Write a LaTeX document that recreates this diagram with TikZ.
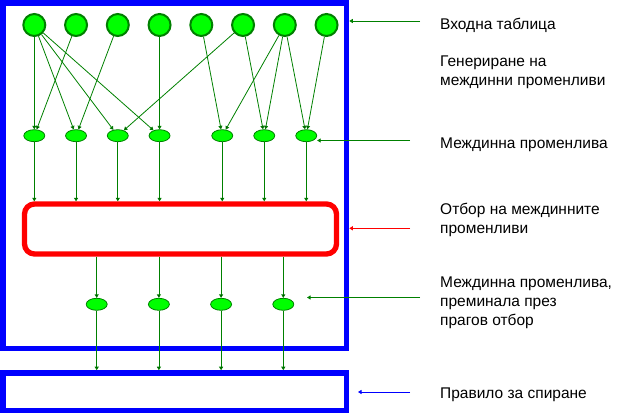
\documentclass[tikz,border=0pt]{standalone}
\usepackage{fontspec}
\setmainfont{Liberation Sans}
\usepackage{xcolor}
\usetikzlibrary{positioning, shapes.geometric, arrows.meta}
\definecolor{darkgreen}{RGB}{0,128,0}
\definecolor{litegreen}{RGB}{0,255,0}

\begin{document}
\begin{tikzpicture}[x=1pt, y=-1pt,
    font=\fontsize{15.5}{19}\selectfont,
    >={Triangle[width=4pt,length=3.5pt]},
    inp/.style={circle, draw=darkgreen, fill=litegreen, line width=2pt,
                minimum size=22pt, inner sep=0pt},
    var/.style={ellipse, draw=darkgreen, fill=litegreen, line width=0.8pt,
                minimum width=21pt, minimum height=12pt, inner sep=0pt},
    bluebox/.style={draw=blue, line width=5.5pt, minimum width=343.5pt, inner sep=0pt},
    note/.style={anchor=west, align=left, inner sep=0pt}]
    \useasboundingbox (0,0) rectangle (630,414);
    % Boxes
    \node[bluebox, minimum height=345.5pt] (tabl) at (174.75,175.75) {};
    \node[bluebox, minimum height=37.5pt] (stop) at (174.75,391.75) {};
    \node[draw=red, line width=5.3pt, rounded corners=10pt,
          minimum width=312pt, minimum height=50pt] (sel) at (180.5,229) {};
    % Input table
    \node[inp] (c1) at (34.3,25) {};
    \node[inp, right=17.75pt of c1] (c2) {};
    \node[inp, right=17.75pt of c2] (c3) {};
    \node[inp, right=17.75pt of c3] (c4) {};
    \node[inp, right=17.75pt of c4] (c5) {};
    \node[inp, right=17.75pt of c5] (c6) {};
    \node[inp, right=17.75pt of c6] (c7) {};
    \node[inp, right=17.75pt of c7] (c8) {};
    % Intermediate variables
    \node[var, below=92.3pt of c1] (m1) {};
    \node[var, below=92.3pt of c2] (m2) {};
    \node[var, below=92.3pt of c3] (m3) {};
    \node[var, below=92.3pt of c4] (m4) {};
    \node[var, right=40.9pt of m4] (m5) {};
    \node[var, right=20.2pt of m5] (m6) {};
    \node[var, right=20.2pt of m6] (m7) {};
    % Variables after threshold selection
    \node[var] (q1) at (96.7,304.3) {};
    \node[var, right=40.4pt of q1] (q2) {};
    \node[var, right=40.4pt of q2] (q3) {};
    \node[var, right=40.4pt of q3] (q4) {};

    \draw[draw=darkgreen, line width=0.8pt, every edge/.append style={->}]
        (c1) edge (m1)
        (c1) edge (m2)
        (c1) edge (m3)
        (c1) edge (m4)
        (c2) edge (m1)
        (c3) edge (m2)
        (c4) edge (m4)
        (c5) edge (m5)
        (c6) edge (m3)
        (c6) edge (m6)
        (c7) edge (m5)
        (c7) edge (m6)
        (c7) edge (m7)
        (c8) edge (m7)
        (m1) edge (m1 |- sel.north)
        (m2) edge (m2 |- sel.north)
        (m3) edge (m3 |- sel.north)
        (m4) edge (m4 |- sel.north)
        (m5) edge (m5 |- sel.north)
        (m6) edge (m6 |- sel.north)
        (m7) edge (m7 |- sel.north)
        (sel.south -| q1) edge (q1)
        (sel.south -| q2) edge (q2)
        (sel.south -| q3) edge (q3)
        (sel.south -| q4) edge (q4)
        (q1) edge (q1 |- stop.north)
        (q2) edge (q2 |- stop.north)
        (q3) edge (q3 |- stop.north)
        (q4) edge (q4 |- stop.north);

    % Legend
    \coordinate (p-in) at (420,21);
    \coordinate (p-var) at (410,140.5);
    \coordinate (p-sel) at (410,228.3);
    \coordinate (p-thr) at (420,297.5);
    \coordinate (p-thr-tip) at (307,297.5);
    \coordinate (p-stop) at (410,392);
    \coordinate (p-stop-tip) at (358,392);
    \draw[->, darkgreen, line width=0.8pt] (p-in) -- (p-in -| tabl.east);
    \draw[->, darkgreen, line width=0.8pt] (p-var) -- (p-var -| m7.east);
    \draw[->, red, line width=0.8pt] (p-sel) -- (p-sel -| tabl.east);
    \draw[->, darkgreen, line width=0.8pt] (p-thr) -- (p-thr-tip);
    \draw[->, blue, line width=0.8pt] (p-stop) -- (p-stop-tip);
    \node[note] (n-in) at (440,25) {Входна таблица};
    \node[note] (n-gen) at (440,72.5) {Генериране на\\междинни променливи};
    \node[note] (n-var) at (440,145) {Междинна променлива};
    \node[note] (n-sel) at (440,220) {Отбор на междинните\\променливи};
    \node[note] (n-thr) at (440,303) {Междинна променлива,\\преминала през\\прагов отбор};
    \node[note] (n-stop) at (440,395) {Правило за спиране};
\end{tikzpicture}
\end{document}
